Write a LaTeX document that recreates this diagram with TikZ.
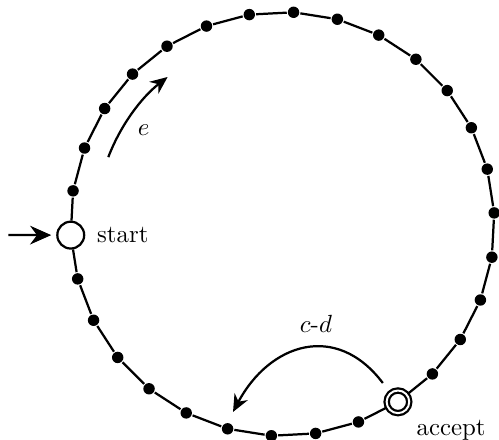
\documentclass[tikz,border=0pt]{standalone}
\usepackage{tikz}
\usetikzlibrary{arrows.meta}

\begin{document}
\begin{tikzpicture}[
    line width=0.9pt,
    dot/.style={circle, fill, inner sep=0pt, minimum size=4.6pt},
    startstate/.style={circle, draw, fill=white, inner sep=0pt, minimum size=0.38cm},
    acceptstate/.style={circle, draw, double, double distance=0.8pt, fill=white, inner sep=0pt, minimum size=0.32cm},
    arr/.style={-{Stealth[length=7pt, width=6pt]}},
    bigarr/.style={-{Stealth[length=8.5pt, width=7.5pt]}},
    lbl/.style={font=\normalsize}
]

% Fix the margins
\useasboundingbox (-3.997,-3.056) rectangle (3.064,3.170);

% Start and accept states on the ring
\node[startstate, label={[lbl, label distance=1pt]right:start}] (q1) at (183:3) {};
\node[acceptstate, label={[lbl, anchor=north west, inner sep=0pt, label distance=5pt]-45:accept}] (q21) at (-57:3) {};

% Intermediate states (clockwise from start)
\node[dot] (q2)  at (171:3) {};
\node[dot] (q3)  at (159:3) {};
\node[dot] (q4)  at (147:3) {};
\node[dot] (q5)  at (135:3) {};
\node[dot] (q6)  at (123:3) {};
\node[dot] (q7)  at (111:3) {};
\node[dot] (q8)  at ( 99:3) {};
\node[dot] (q9)  at ( 87:3) {};
\node[dot] (q10) at ( 75:3) {};
\node[dot] (q11) at ( 63:3) {};
\node[dot] (q12) at ( 51:3) {};
\node[dot] (q13) at ( 39:3) {};
\node[dot] (q14) at ( 27:3) {};
\node[dot] (q15) at ( 15:3) {};
\node[dot] (q16) at (  3:3) {};
\node[dot] (q17) at ( -9:3) {};
\node[dot] (q18) at (-21:3) {};
\node[dot] (q19) at (-33:3) {};
\node[dot] (q20) at (-45:3) {};
\node[dot] (q22) at (-69:3) {};
\node[dot] (q23) at (-81:3) {};
\node[dot] (q24) at (-93:3) {};
\node[dot] (q25) at (-105:3) {};
\node[dot] (q26) at (-117:3) {};
\node[dot] (q27) at (-129:3) {};
\node[dot] (q28) at (-141:3) {};
\node[dot] (q29) at (-153:3) {};
\node[dot] (q30) at (-165:3) {};

% The ring of edges
\draw (q1) -- (q2) -- (q3) -- (q4) -- (q5) -- (q6) -- (q7) -- (q8) -- (q9) -- (q10)
      -- (q11) -- (q12) -- (q13) -- (q14) -- (q15) -- (q16) -- (q17) -- (q18) -- (q19) -- (q20)
      -- (q21) -- (q22) -- (q23) -- (q24) -- (q25) -- (q26) -- (q27) -- (q28) -- (q29) -- (q30) -- (q1);

% Initial arrow
\coordinate (in0) at (-3.88,-0.157);
\draw[bigarr, shorten >=2pt] (in0) -- (q1);

% Forward move e
\coordinate (e0) at (159:2.64);
\draw[arr] (e0) arc[start angle=159, end angle=128, radius=2.64];
\node[lbl] (elbl) at (146:2.37) {$e$};

% Backward move c-d
\coordinate (cd0) at (1.42,-2.25);
\coordinate (cd1) at (-0.70,-2.66);
\draw[arr] (cd0) to[out=127, in=62, looseness=1.3] (cd1);
\node[lbl] (cdlbl) at (0.474,-1.415) {$c$-$d$};

\end{tikzpicture}
\end{document}
